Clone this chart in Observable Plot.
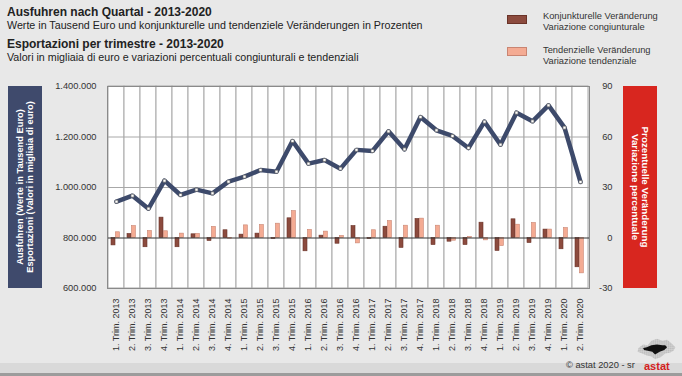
<!DOCTYPE html>
<html>
<head>
<meta charset="utf-8">
<script src="https://cdn.jsdelivr.net/npm/d3@7"></script>
<script src="https://cdn.jsdelivr.net/npm/@observablehq/plot@0.6"></script>
<style>
  html, body { margin: 0; padding: 0; background: #e8e8e8; }
  #wrap { position: relative; width: 682px; height: 376px; background: #e8e8e8; overflow: hidden;
          font-family: "Liberation Sans", Arial, sans-serif; color: #222; }
  .abs { position: absolute; white-space: nowrap; line-height: 1; }
  .t { font-weight: bold; font-size: 12px; line-height: 11px; color: #222; }
  .s { font-size: 10.7px; line-height: 9px; color: #222; }
  .lg { font-size: 9.3px; color: #333; line-height: 11px; }
  .sw { position: absolute; width: 20px; height: 9px; }
  .box { position: absolute; top: 86px; width: 34px; height: 202px; }
  .rot { position: absolute; width: 202px; height: 34px; top: 170px; display: flex; flex-direction: column;
         justify-content: center; align-items: center; color: #fff; font-weight: bold; line-height: 10.5px; white-space: nowrap; }
  #chart { position: absolute; left: 0; top: 0; }
</style>
</head>
<body>
<div id="wrap">
  <div id="chart"></div>
  <div class="abs t" style="left:7px;top:6.6px">Ausfuhren nach Quartal - 2013-2020</div>
  <div class="abs s" style="left:7px;top:20.5px">Werte in Tausend Euro und konjunkturelle und tendenziele Veränderungen in Prozenten</div>
  <div class="abs t" style="left:7px;top:38.6px">Esportazioni per trimestre - 2013-2020</div>
  <div class="abs s" style="left:7px;top:52.8px">Valori in migliaia di euro e variazioni percentuali congiunturali e tendenziali</div>

  <div class="sw" style="left:507px;top:15px;background:#8c4b3e;border:1px solid #6a3328;box-sizing:border-box"></div>
  <div class="abs lg" style="left:543px;top:11px">Konjunkturelle Veränderung<br>Variazione congiunturale</div>
  <div class="sw" style="left:507px;top:47px;background:#f4ab93;border:1px solid #c98572;box-sizing:border-box"></div>
  <div class="abs lg" style="left:543px;top:44.5px">Tendenzielle Veränderung<br>Variazione tendenziale</div>

  <div class="box" style="left:8px;background:#3f4a6c"></div>
  <div class="rot" style="left:-76px;transform:rotate(-90deg);font-size:9.3px">
    <div>Ausfuhren (Werte in Tausend Euro)</div><div>Esportazioni (Valori in migliaia di euro)</div>
  </div>
  <div class="box" style="left:623px;background:#d8261f"></div>
  <div class="rot" style="left:539px;transform:rotate(90deg);font-size:9.8px">
    <div>Prozentuelle Veränderung</div><div>Variazione percentuale</div>
  </div>

  <div style="position:absolute;left:0;top:362.5px;width:682px;height:10.5px;background:#d9d9d9"></div>
  <div style="position:absolute;left:0;top:373px;width:682px;height:3px;background:#9c9c9c"></div>
  <svg style="position:absolute;left:634px;top:337px" width="44" height="24" viewBox="0 0 46 26">
    <defs>
      <pattern id="dots" width="2" height="2" patternUnits="userSpaceOnUse">
        <rect x="0.4" y="0.4" width="1" height="1" fill="#666"/>
      </pattern>
    </defs>
    <path d="M4 12 L9 8 L14 9 L18 4 L24 2 L30 4 L35 3 L40 7 L44 11 L42 15 L38 17 L33 18 L28 22 L22 24 L18 21 L13 20 L8 18 L3 16 Z" fill="url(#dots)"/>
    <path d="M9 12 L13 11 L18 9 L24 8 L30 9 L33 9 L35 11 L32 14 L27 16 L22 19 L19 16 L14 15 L10 14 Z" fill="#111"/>
  </svg>
  <div class="abs" style="left:566px;top:361px;font-size:9.3px;color:#333">© astat 2020 - sr</div>
  <div class="abs" style="left:644px;top:361px;font-size:11px;font-weight:bold;color:#d42020">astat</div>
</div>
<script>
const labels = ["1. Trim. 2013","2. Trim. 2013","3. Trim. 2013","4. Trim. 2013",
  "1. Trim. 2014","2. Trim. 2014","3. Trim. 2014","4. Trim. 2014",
  "1. Trim. 2015","2. Trim. 2015","3. Trim. 2015","4. Trim. 2015",
  "1. Trim. 2016","2. Trim. 2016","3. Trim. 2016","4. Trim. 2016",
  "1. Trim. 2017","2. Trim. 2017","3. Trim. 2017","4. Trim. 2017",
  "1. Trim. 2018","2. Trim. 2018","3. Trim. 2018","4. Trim. 2018",
  "1. Trim. 2019","2. Trim. 2019","3. Trim. 2019","4. Trim. 2019",
  "1. Trim. 2020","2. Trim. 2020"];
const exportsValues = [943900, 967600, 916200, 1027000, 970300, 991400, 976900, 1023100,
  1042900, 1069300, 1062700, 1184200, 1094400, 1108900, 1074600, 1149000,
  1144600, 1222400, 1151200, 1279200, 1226400, 1204000, 1156400, 1260700,
  1169600, 1296400, 1262100, 1325400, 1237000, 1021800];
const conjChange = [-4.4, 2.4, -5.5, 12.1, -5.5, 2.2, -1.8, 4.6, 2.0, 2.6, -0.6, 11.7,
  -7.9, 1.4, -3.4, 7.1, -0.6, 6.7, -5.9, 11.3, -4.2, -2.2, -4.2, 9.1,
  -7.7, 11.1, -3.0, 5.0, -6.7, -17.4];
const trendChange = [3.4, 7.1, 4.2, 4.0, 2.6, 2.4, 6.6, -0.4, 7.5, 7.7, 8.5, 16.0,
  4.8, 3.8, 1.2, -3.2, 4.6, 10.1, 7.3, 11.5, 7.3, -1.6, 0.6, -1.4,
  -4.8, 7.9, 8.9, 5.0, 5.9, -21.0];
const leftTicks = [600000, 800000, 1000000, 1200000, 1400000];
const rightTicks = [-30, 0, 30, 60, 90];

// right (percent) axis is aligned to the left (value) axis: 0% <-> 800.000, 30% <-> 200.000
const pctToValue = p => 800000 + p / 30 * 200000;
const fmtValue = v => d3.format(",")(v).replace(/,/g, ".");
const idx = d3.range(labels.length);

const chart = Plot.plot({
  width: 682, height: 376,
  marginLeft: 107, marginRight: 93, marginTop: 86, marginBottom: 88,
  x: {domain: labels, padding: 0, axis: null},
  y: {domain: [600000, 1400000], axis: null},
  style: {background: "transparent", fontFamily: "'Liberation Sans', Arial, sans-serif", overflow: "visible"},
  marks: [
    Plot.barY(labels, {x: d => d, y1: 600000, y2: 1400000, fill: "white", stroke: "#a8a8a8", strokeWidth: 1}),
    Plot.ruleY([1000000, 1200000], {stroke: "#a8a8a8", strokeWidth: 1}),
    Plot.barY(idx, {x: i => labels[i], y1: 800000, y2: i => pctToValue(conjChange[i]),
      fill: "#8c4b3e", stroke: "#6a3328", strokeWidth: 0.6, insetLeft: 3, insetRight: 9}),
    Plot.barY(idx, {x: i => labels[i], y1: 800000, y2: i => pctToValue(trendChange[i]),
      fill: "#f4ab93", stroke: "#c98572", strokeWidth: 0.6, insetLeft: 7.4, insetRight: 4.6}),
    Plot.ruleY([800000], {stroke: "#333", strokeWidth: 1}),
    Plot.line(idx, {x: i => labels[i], y: i => exportsValues[i], stroke: "#3d4a6b", strokeWidth: 4.5, strokeLinejoin: "round"}),
    Plot.dot(idx, {x: i => labels[i], y: i => exportsValues[i], symbol: "square", r: 1.7, fill: "white", stroke: "#666", strokeWidth: 0.7}),
    Plot.frame({stroke: "#8a8a8a", strokeWidth: 1}),
    Plot.text(leftTicks, {y: d => d, text: d => fmtValue(d), frameAnchor: "left", dx: -11, textAnchor: "end", fontSize: 9.3, fill: "#333"}),
    Plot.text(rightTicks, {y: d => pctToValue(d), text: d => String(d), frameAnchor: "right", dx: 23, textAnchor: "end", fontSize: 9.3, fill: "#333"}),
    Plot.text(labels, {x: d => d, y: 600000, text: d => d, rotate: -90, textAnchor: "end", dy: 10, fontSize: 9, fill: "#333"})
  ]
});
document.getElementById("chart").appendChild(chart);
</script>
</body>
</html>
